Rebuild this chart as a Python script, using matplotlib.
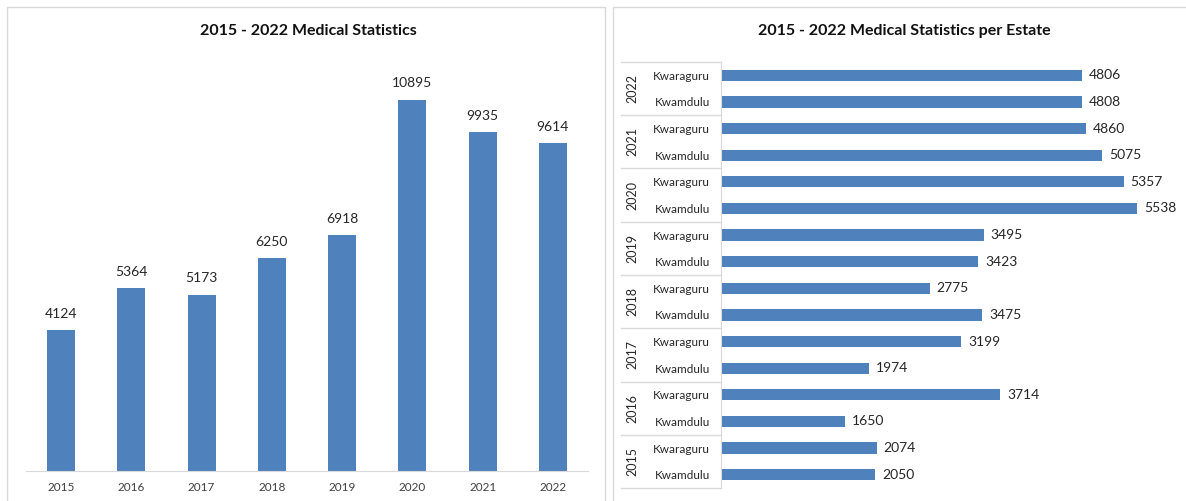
import matplotlib
matplotlib.use("Agg")
import matplotlib.pyplot as plt
from matplotlib.patches import Rectangle
from matplotlib.lines import Line2D

plt.rcParams['font.family'] = ['Lato', 'DejaVu Sans']

# Yearly totals
years = ["2015", "2016", "2017", "2018", "2019", "2020", "2021", "2022"]
totals = [4124, 5364, 5173, 6250, 6918, 10895, 9935, 9614]

# Per-estate figures by year
estates = ["Kwamdulu", "Kwaraguru"]
kwamdulu = [2050, 1650, 1974, 3475, 3423, 5538, 5075, 4808]
kwaraguru = [2074, 3714, 3199, 2775, 3495, 5357, 4860, 4806]

BLUE = "#4F81BD"
W, H = 1186, 501
fig = plt.figure(figsize=(W / 100, H / 100), dpi=100)
fig.patch.set_facecolor("white")


def px_axes(x0, y0, x1, y1):
    return fig.add_axes([x0 / W, 1 - y1 / H, (x1 - x0) / W, (y1 - y0) / H])


# Panel frames
for (x0, y0, x1, y1) in [(7, 7, 605, 520), (613, 7, 1200, 520)]:
    fig.patches.append(Rectangle((x0 / W, 1 - y1 / H), (x1 - x0) / W, (y1 - y0) / H,
                                 transform=fig.transFigure, fill=False,
                                 edgecolor="#D9D9D9", linewidth=1.0))

# ---- Left: column chart of totals ----
ax1 = px_axes(26, 62, 588, 471)
xs = range(len(years))
ax1.bar(xs, totals, width=0.4, color=BLUE)
ax1.set_xlim(-0.5, len(years) - 0.5)
ax1.set_ylim(0, 12000)
for x, v in zip(xs, totals):
    ax1.text(x, v + 300, f"{v}", ha="center", va="bottom", fontsize=10, color="#262626")
ax1.set_xticks(list(xs))
ax1.set_xticklabels(years, fontsize=8.5, color="#404040")
ax1.tick_params(axis="x", length=0, pad=8)
ax1.set_yticks([])
for s in ["top", "left", "right"]:
    ax1.spines[s].set_visible(False)
ax1.spines["bottom"].set_color("#D9D9D9")
fig.text(308 / W, 1 - 31 / H, "2015 - 2022 Medical Statistics", ha="center", va="center",
         fontsize=11.5, fontweight="bold", color="#111111")

# ---- Right: horizontal bars per estate ----
ax2 = px_axes(721, 62, 1172, 488)
labels = []
values = []
for i, y in enumerate(years):
    values += [kwamdulu[i], kwaraguru[i]]
    labels += estates
pos = list(range(len(values)))
ax2.barh(pos, values, height=0.42, color=BLUE)
ax2.set_ylim(-0.5, len(values) - 0.5)
ax2.set_xlim(0, 6000)
for p, v in zip(pos, values):
    ax2.text(v + 90, p, f"{v}", ha="left", va="center", fontsize=10, color="#262626")
ax2.set_xticks([])
ax2.set_yticks(pos)
ax2.set_yticklabels(labels, fontsize=8.5, color="#262626")
ax2.tick_params(axis="y", length=0, pad=8)
for s in ["top", "right", "bottom"]:
    ax2.spines[s].set_visible(False)
ax2.spines["left"].set_color("#D9D9D9")

# Year group labels and separators
trans = ax2.get_yaxis_transform()
x_sep = (621 - 721) / (1172 - 721)
x_year = (632 - 721) / (1172 - 721)
for i, y in enumerate(years):
    ax2.text(x_year, 2 * i + 0.5, y, transform=trans, rotation=90, ha="center", va="center",
             fontsize=9, color="#262626", clip_on=False)
for b in range(len(years) + 1):
    yb = 2 * b - 0.5
    ax2.add_line(Line2D([x_sep, 0], [yb, yb], transform=trans, color="#D9D9D9",
                        linewidth=1.0, clip_on=False))
fig.text(904 / W, 1 - 31 / H, "2015 - 2022 Medical Statistics per Estate", ha="center",
         va="center", fontsize=11.5, fontweight="bold", color="#111111")

fig.savefig("out.png", dpi=100, facecolor="white")
